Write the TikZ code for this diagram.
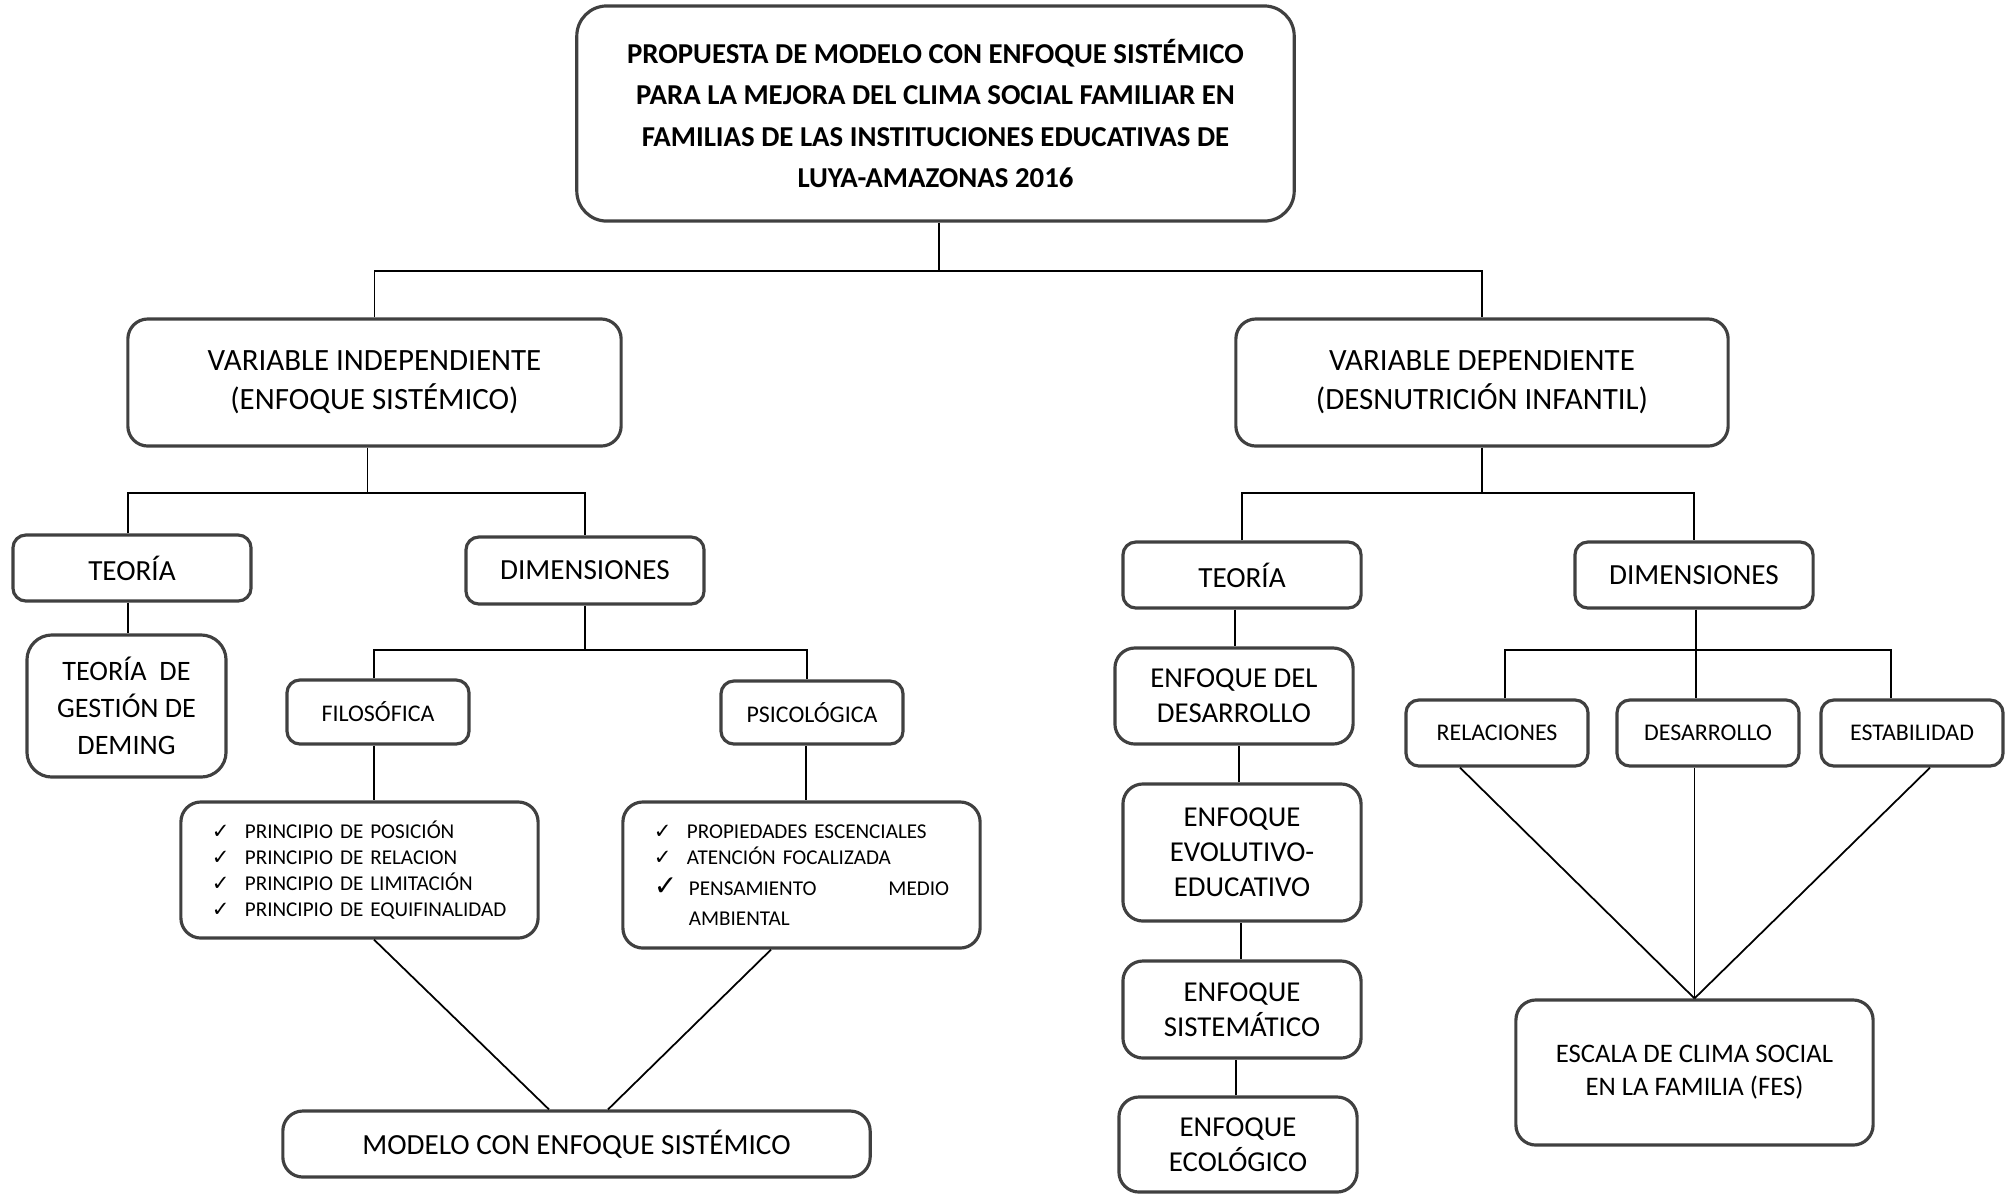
\documentclass[tikz,border=0pt]{standalone}
\usepackage{fontspec}
\setmainfont{Carlito}
\newfontfamily\chkfont{DejaVu Sans}
\usetikzlibrary{positioning}

\newcommand{\chkitem}[2][6]{\makebox[0.33cm][l]{\fontsize{#1}{7.4}\chkfont\char"2713}#2}

\begin{document}
\begin{tikzpicture}[x=0.01cm, y=-0.01cm,
    caja/.style={rectangle, rounded corners=2mm, draw=black!75, line width=0.9pt, align=center, inner sep=0pt},
    cajita/.style={caja, rounded corners=1.3mm},
    linea/.style={black, line width=0.5pt}]
    \useasboundingbox (0,0) rectangle (2015,1193);

    % cabecera
    \node (titulo) [caja, rounded corners=3mm, minimum width=7.17cm, minimum height=2.15cm, font=\fontsize{8.2}{11.7}\selectfont\bfseries] at (935.5,113.5) {PROPUESTA DE MODELO CON ENFOQUE SISTÉMICO\\PARA LA MEJORA DEL CLIMA SOCIAL FAMILIAR EN\\FAMILIAS DE LAS INSTITUCIONES EDUCATIVAS DE\\LUYA-AMAZONAS 2016};

    \node (vind) [caja, minimum width=4.93cm, minimum height=1.27cm, font=\fontsize{8.8}{11}\selectfont] at (374.5,382.5) {VARIABLE INDEPENDIENTE\\(ENFOQUE SISTÉMICO)};
    \node (vdep) [caja, minimum width=4.92cm, minimum height=1.27cm, font=\fontsize{8.8}{11}\selectfont] at (1482,382.5) {VARIABLE DEPENDIENTE\\(DESNUTRICIÓN INFANTIL)};

    % lado izquierdo
    \node (teoria1) [cajita, minimum width=2.38cm, minimum height=0.66cm, font=\fontsize{8.3}{10}\selectfont] at (132,568) {TEORÍA};
    \node (dimen1) [cajita, minimum width=2.38cm, minimum height=0.67cm, font=\fontsize{8.3}{10}\selectfont] at (585,570.5) {DIMENSIONES};
    \node (deming) [caja, rounded corners=2.5mm, minimum width=1.99cm, minimum height=1.42cm, font=\fontsize{8}{10.6}\selectfont] at (126.5,706) {TEORÍA~~DE\\GESTIÓN DE\\DEMING};
    \node (filo) [cajita, minimum width=1.82cm, minimum height=0.64cm, font=\fontsize{6.8}{8}\selectfont] at (378,712) {FILOSÓFICA};
    \node (psico) [cajita, minimum width=1.82cm, minimum height=0.63cm, font=\fontsize{6.8}{8}\selectfont] at (812,712.5) {PSICOLÓGICA};
    \node (prin1) [caja, minimum width=3.57cm, minimum height=1.36cm, text width=2.95cm, inner xsep=0.31cm, align=left, font=\fontsize{6}{7.4}\selectfont] at (359.5,870) {\chkitem{PRINCIPIO DE POSICIÓN}\\\chkitem{PRINCIPIO DE RELACION}\\\chkitem{PRINCIPIO DE LIMITACIÓN}\\\chkitem{PRINCIPIO DE EQUIFINALIDAD}};
    \node (prin2) [caja, minimum width=3.57cm, minimum height=1.46cm, text width=2.95cm, inner xsep=0.31cm, align=left, font=\fontsize{6}{7.4}\selectfont] at (801.5,875) {\chkitem{PROPIEDADES ESCENCIALES}\\\chkitem{ATENCIÓN FOCALIZADA}\\[1.5pt]\makebox[0.35cm][l]{\fontsize{8}{8}\chkfont\char"2713}\parbox[t]{2.6cm}{PENSAMIENTO\hfill MEDIO\\[1pt]AMBIENTAL}};
    \node (modelo) [caja, minimum width=5.87cm, minimum height=0.66cm, font=\fontsize{8.3}{10}\selectfont] at (576.5,1144) {MODELO CON ENFOQUE SISTÉMICO};

    % lado derecho
    \node (teoria2) [cajita, minimum width=2.38cm, minimum height=0.66cm, font=\fontsize{8.3}{10}\selectfont] at (1242,575) {TEORÍA};
    \node (dimen2) [cajita, minimum width=2.38cm, minimum height=0.66cm, font=\fontsize{8.3}{10}\selectfont] at (1694,575) {DIMENSIONES};
    \node (enfdes) [caja, minimum width=2.38cm, minimum height=0.96cm, font=\fontsize{8.2}{10}\selectfont] at (1234,696) {ENFOQUE DEL\\DESARROLLO};
    \node (enfevo) [caja, minimum width=2.38cm, minimum height=1.37cm, font=\fontsize{8.2}{10}\selectfont] at (1242,852.5) {ENFOQUE\\EVOLUTIVO-\\EDUCATIVO};
    \node (enfsis) [caja, minimum width=2.38cm, minimum height=0.97cm, font=\fontsize{8.2}{10}\selectfont] at (1242,1009.5) {ENFOQUE\\SISTEMÁTICO};
    \node (enfeco) [caja, minimum width=2.38cm, minimum height=0.95cm, font=\fontsize{8.2}{10}\selectfont] at (1238,1144.5) {ENFOQUE\\ECOLÓGICO};
    \node (relac) [cajita, minimum width=1.82cm, minimum height=0.66cm, font=\fontsize{6.8}{8}\selectfont] at (1497,733) {RELACIONES};
    \node (desar) [cajita, minimum width=1.82cm, minimum height=0.66cm, font=\fontsize{6.8}{8}\selectfont] at (1708,733) {DESARROLLO};
    \node (estab) [cajita, minimum width=1.82cm, minimum height=0.66cm, font=\fontsize{6.8}{8}\selectfont] at (1912,733) {ESTABILIDAD};
    \node (escala) [caja, minimum width=3.57cm, minimum height=1.45cm, font=\fontsize{7.6}{9.4}\selectfont] at (1694.5,1072.5) {ESCALA DE CLIMA SOCIAL\\EN LA FAMILIA (FES)};

    % conectores
    \draw [linea] ([xshift=0.035cm]titulo.south) -- ++(0,48) coordinate (j0);
    \draw [linea] (vind.north) |- (j0) -| (vdep.north);

    \draw [linea] ([xshift=-0.07cm]vind.south) -- ++(0,45) coordinate (j1);
    \draw [linea] ([xshift=-0.04cm]teoria1.north) |- (j1) -| (dimen1.north);
    \draw [linea] ([xshift=-0.04cm]teoria1.south) -- ([xshift=-0.04cm]teoria1.south |- deming.north);
    \draw [linea] (dimen1.south) -- ++(0,44) coordinate (j2);
    \draw [linea] ([xshift=-0.04cm]filo.north) |- (j2) -| ([xshift=-0.05cm]psico.north);
    \draw [linea] ([xshift=-0.04cm]filo.south) -- ([xshift=-0.04cm]filo.south |- prin1.north);
    \draw [linea] ([xshift=-0.06cm]psico.south) -- ([xshift=-0.06cm]psico.south |- prin2.north);
    \draw [linea] ([xshift=0.145cm]prin1.south) -- ([xshift=-0.275cm]modelo.north);
    \draw [linea] ([xshift=-0.305cm]prin2.south) -- ([xshift=0.315cm]modelo.north);

    \draw [linea] (vdep.south) -- ++(0,45) coordinate (j3);
    \draw [linea] (teoria2.north) |- (j3) -| (dimen2.north);
    \draw [linea] ([xshift=-0.07cm]teoria2.south) -- ([xshift=-0.07cm]teoria2.south |- enfdes.north);
    \draw [linea] ([xshift=-0.03cm]enfevo.north) -- ([xshift=-0.03cm]enfevo.north |- enfdes.south);
    \draw [linea] ([xshift=-0.01cm]enfsis.north) -- ([xshift=-0.01cm]enfsis.north |- enfevo.south);
    \draw [linea] ([xshift=-0.02cm]enfeco.north) -- ([xshift=-0.02cm]enfeco.north |- enfsis.south);
    \draw [linea] ([xshift=0.02cm]dimen2.south) -- ++(0,40) coordinate (j4);
    \draw [linea] ([xshift=0.08cm]relac.north) |- (j4) -| ([xshift=-0.21cm]estab.north);
    \draw [linea] (j4) -- (j4 |- desar.north);
    \draw [linea] ([xshift=-0.37cm]relac.south) -- (escala.north);
    \draw [linea] (desar.south -| escala.north) -- (escala.north);
    \draw [linea] ([xshift=0.18cm]estab.south) -- (escala.north);
\end{tikzpicture}
\end{document}
